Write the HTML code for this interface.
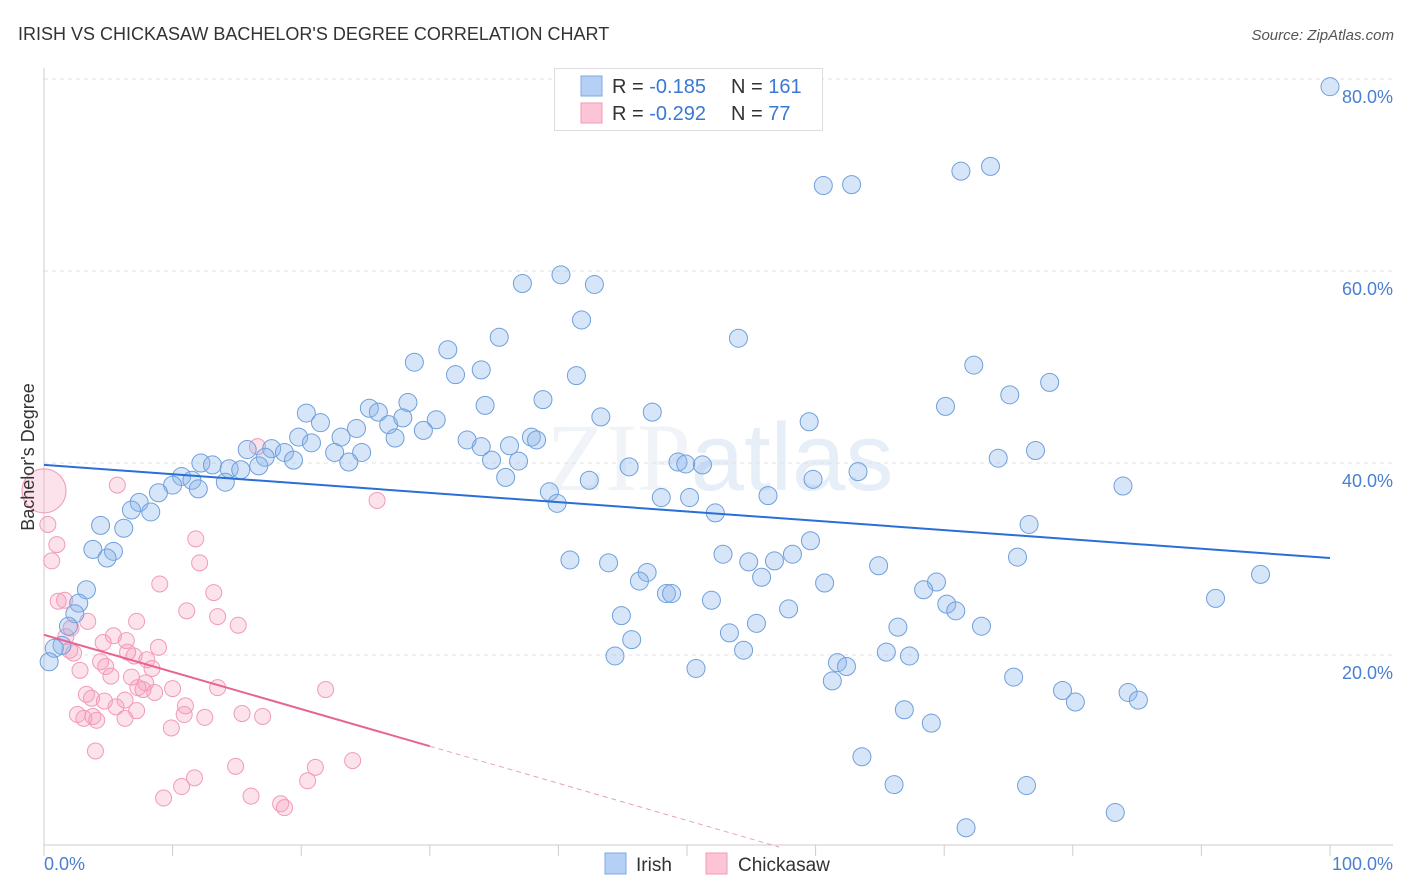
<!DOCTYPE html>
<html><head><meta charset="utf-8"><style>
body{margin:0;background:#fff;font-family:"Liberation Sans",sans-serif;}
svg{display:block}
</style></head><body>
<svg id="chart" width="1406" height="892">
<text x="18" y="40" font-size="18" fill="#333">IRISH VS CHICKASAW BACHELOR'S DEGREE CORRELATION CHART</text>
<text x="1394" y="40" font-size="15" fill="#555" font-style="italic" text-anchor="end">Source: ZipAtlas.com</text>
<text x="720" y="490" font-size="96" fill="#f0f3f7" text-anchor="middle" font-family="Liberation Serif">ZIP<tspan fill="#e6eef8" font-family="Liberation Sans">atlas</tspan></text>
<g id="grid"></g><g id="axes"></g><g id="pts"></g><g id="trend"></g>
<text transform="translate(34,457) rotate(-90)" font-size="18" fill="#333" text-anchor="middle">Bachelor's Degree</text>
<g>
<rect x="554.5" y="68.5" width="268" height="62" fill="#fff" stroke="#ddd"/>
<rect x="581" y="76" width="21" height="20" fill="#b4d0f5" stroke="#7fa8e0"/>
<rect x="581" y="103" width="21" height="20" fill="#fcc4d4" stroke="#f09ab5"/>
<text x="612" y="93" font-size="20" fill="#333">R = <tspan fill="#3a78d4">-0.185</tspan><tspan x="731">N = </tspan><tspan fill="#3a78d4">161</tspan></text>
<text x="612" y="120" font-size="20" fill="#333">R = <tspan fill="#3a78d4">-0.292</tspan><tspan x="731">N = </tspan><tspan fill="#3a78d4"> 77</tspan></text>
</g>
<g>
<rect x="605" y="853" width="21" height="21" fill="#b4d0f5" stroke="#7fa8e0"/>
<text x="636" y="871" font-size="19" fill="#333">Irish</text>
<rect x="706" y="853" width="21" height="21" fill="#fcc4d4" stroke="#f09ab5"/>
<text x="738" y="871" font-size="19" fill="#333">Chickasaw</text>
</g>
</svg>
<script>
const yTicks=[20,40,60,80];
const xTickLabels=["0.0%","100.0%"];
const irishX=[100,60.6,62.8,71.3,73.6,40.2,37.2,42.8,41.8,35.4,54.0,31.4,28.8,72.3,34.0,32.0,41.4,78.2,75.1,38.8,25.3,28.3,34.3,47.3,70.1,43.3,20.4,21.5,30.5,26.0,26.8,27.9,59.5,24.3,29.5,27.3,23.1,37.9,32.9,19.8,20.8,34.0,36.2,38.3,15.8,17.7,18.7,17.2,22.6,24.7,77.1,74.2,12.2,34.8,36.9,19.4,23.7,49.3,49.9,51.2,45.5,63.3,13.1,14.4,15.3,16.7,10.7,11.5,14.1,35.9,59.8,42.4,83.9,10.0,12.0,8.9,39.3,48.0,50.2,56.3,39.9,7.4,6.8,8.3,52.2,76.6,4.4,6.2,3.8,5.4,4.9,59.6,52.8,58.2,75.7,40.9,43.9,54.8,56.8,64.9,94.6,55.8,46.9,46.3,60.7,69.4,68.4,3.3,48.4,48.8,2.7,91.1,51.9,70.2,70.9,44.9,57.9,2.4,1.9,66.4,72.9,55.4,53.3,45.7,1.4,0.8,54.4,65.5,67.3,44.4,0.4,61.7,62.4,50.7,61.3,75.4,79.2,84.3,80.2,85.1,66.9,69.0,63.6,66.1,76.4,83.3,71.7];
const irishY=[79.2,68.9,69.0,70.4,70.9,59.6,58.7,58.6,54.9,53.1,53.0,51.8,50.5,50.2,49.7,49.2,49.1,48.4,47.1,46.6,45.7,46.3,46.0,45.3,45.9,44.8,45.2,44.2,44.5,45.3,44.0,44.7,44.3,43.6,43.4,42.6,42.7,42.7,42.4,42.7,42.1,41.7,41.8,42.4,41.4,41.5,41.1,40.6,41.1,41.1,41.3,40.5,40.0,40.3,40.2,40.3,40.1,40.1,39.9,39.8,39.6,39.1,39.8,39.4,39.3,39.7,38.6,38.2,38.0,38.5,38.3,38.2,37.6,37.7,37.3,36.9,37.0,36.4,36.4,36.6,35.8,35.9,35.1,34.9,34.8,33.6,33.5,33.2,31.0,30.8,30.1,31.9,30.5,30.5,30.2,29.9,29.6,29.7,29.8,29.3,28.4,28.1,28.6,27.7,27.5,27.6,26.8,26.8,26.4,26.4,25.4,25.9,25.7,25.3,24.6,24.1,24.8,24.3,23.0,22.9,23.0,23.3,22.3,21.6,21.0,20.7,20.5,20.3,19.9,19.9,19.3,19.2,18.8,18.6,17.3,17.7,16.3,16.1,15.1,15.3,14.3,12.9,9.4,6.5,6.4,3.6,2.0];
const chickX=[0,0.3,1.0,0.6,5.7,16.6,25.9,9.0,11.8,12.1,1.1,1.6,1.7,2.1,3.4,13.2,11.1,13.5,15.1,7.2,5.4,6.4,4.6,8.9,2.0,2.3,2.8,4.4,4.8,7.0,8.0,8.4,6.8,7.3,7.9,8.6,13.5,21.9,10.0,3.3,3.7,4.7,6.3,5.6,7.2,11.0,2.6,3.1,3.8,4.1,6.3,12.5,10.9,15.4,17.0,9.9,4.0,14.9,24.0,21.1,11.7,10.7,20.5,9.3,16.1,18.4,18.7,7.7,6.5,5.2];
const chickY=[37.1,33.6,31.5,29.8,37.7,41.7,36.1,27.4,32.1,29.6,25.6,25.7,21.9,22.8,23.5,26.5,24.6,24.0,23.1,23.5,22.0,21.5,21.3,20.8,20.5,20.2,18.4,19.3,18.8,19.9,19.5,18.6,17.7,16.6,17.1,16.1,16.6,16.4,16.5,15.9,15.5,15.2,15.3,14.6,14.2,14.7,13.8,13.4,13.6,13.2,13.4,13.5,13.8,13.9,13.6,12.4,10.0,8.4,9.0,8.3,7.2,6.3,6.9,5.1,5.3,4.5,4.1,16.4,20.3,17.8];
const irishTrend=[39.8,30.1];
const chickTrend=[22.1,10.5];
const NS="http://www.w3.org/2000/svg";
const X=v=>44+v*12.86, Y=v=>847-v*9.6;
function mk(tag,attrs,parent){const e=document.createElementNS(NS,tag);for(const k in attrs)e.setAttribute(k,attrs[k]);document.getElementById(parent).appendChild(e);return e;}
yTicks.forEach(t=>{
 const l=mk('line',{x1:44,x2:1393,y1:Y(t),y2:Y(t),stroke:'#e2e2e2','stroke-dasharray':'4,4'},'grid');
 
 
 const tx=mk('text',{x:1393,y:Y(t)+24,'font-size':18,fill:'#4a7fd0','text-anchor':'end'},'grid');
 tx.textContent=t.toFixed(1)+'%';
 
 
});
const ax=mk('line',{x1:44,x2:1393,y1:845,y2:845,stroke:'#ccc'},'axes');


const ay=mk('line',{x1:44,x2:44,y1:68,y2:845,stroke:'#ccc'},'axes');


for(let i=0;i<=10;i++){const t=mk('line',{x1:X(i*10),x2:X(i*10),y1:845,y2:856,stroke:'#ccc'},'axes');
 
 }
const xl0=mk('text',{x:44,y:870,'font-size':18,fill:'#4a7fd0'},'axes');xl0.textContent=xTickLabels[0];


const xl1=mk('text',{x:1393,y:870,'font-size':18,fill:'#4a7fd0','text-anchor':'end'},'axes');xl1.textContent=xTickLabels[1];


chickX.forEach((v,i)=>{const c=mk('circle',{cx:X(v),cy:Y(chickY[i]),r:i===0?22:8,fill:'rgba(246,160,190,0.3)',stroke:'#f29ab8','stroke-width':1},'pts');
 
 });
irishX.forEach((v,i)=>{const c=mk('circle',{cx:X(v),cy:Y(irishY[i]),r:9,fill:'rgba(140,180,235,0.35)',stroke:'#6fa0dc','stroke-width':1},'pts');
 
 });
const tl=mk('line',{x1:X(0),y1:Y(irishTrend[0]),x2:X(100),y2:Y(irishTrend[1]),stroke:'#2a6fd6','stroke-width':2},'trend');


const tp=mk('line',{x1:X(0),y1:Y(chickTrend[0]),x2:X(30),y2:Y(chickTrend[1]),stroke:'#e8648f','stroke-width':2},'trend');


const slope=(chickTrend[1]-chickTrend[0])/30, xEnd=-chickTrend[0]/slope;
const td=mk('line',{x1:X(30),y1:Y(chickTrend[1]),x2:X(xEnd),y2:Y(0),stroke:'#e8a0b8','stroke-width':1,'stroke-dasharray':'5,4'},'trend');


</script>
</body></html>
